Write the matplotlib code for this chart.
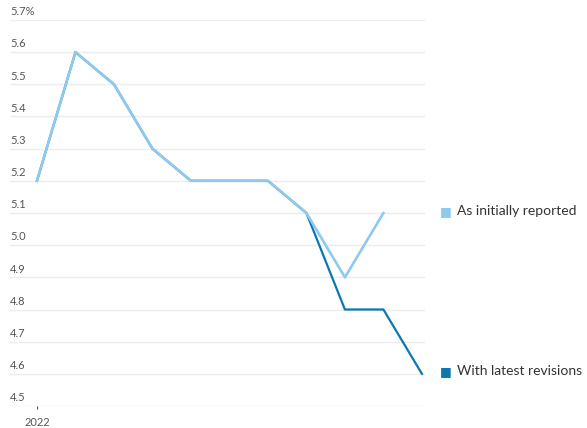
import matplotlib
matplotlib.use("Agg")
import matplotlib.pyplot as plt

x_idx = list(range(11))
initial = [5.2, 5.6, 5.5, 5.3, 5.2, 5.2, 5.2, 5.1, 4.9, 5.1]
revised = [5.2, 5.6, 5.5, 5.3, 5.2, 5.2, 5.2, 5.1, 4.8, 4.8, 4.6]
y_ticks = [4.5, 4.6, 4.7, 4.8, 4.9, 5.0, 5.1, 5.2, 5.3, 5.4, 5.5, 5.6, 5.7]
y_labels = ["4.5", "4.6", "4.7", "4.8", "4.9", "5.0", "5.1", "5.2", "5.3", "5.4", "5.5", "5.6", "5.7%"]
x_label = "2022"
series_names = ["As initially reported", "With latest revisions"]

light = "#8ecaee"
dark = "#0b78b0"

plt.rcParams['font.family'] = ['Lato', 'DejaVu Sans']

fig = plt.figure(figsize=(5.87, 4.28), dpi=100)
ax = fig.add_axes([10/587, 22/428, 415/587, 386/428])
ax.set_xlim(-0.7, 10.08)
ax.set_ylim(4.5, 5.7)

for yt, lab in zip(y_ticks, y_labels):
    ax.axhline(yt, color="#ececec", lw=1.0, zorder=0)
    ax.annotate(lab, xy=(0, yt), xycoords=("axes fraction", "data"),
                xytext=(0, 2), textcoords="offset points",
                ha="left", va="bottom", fontsize=8, color="#555555")

ax.plot(x_idx[:len(revised)], revised, color=dark, lw=1.6, zorder=2)
ax.plot(x_idx[:len(initial)], initial, color=light, lw=1.9, zorder=3)

for s in ax.spines.values():
    s.set_visible(False)
ax.set_yticks([])
ax.set_xticks([0])
ax.set_xticklabels([x_label], fontsize=8, color="#555555")
ax.tick_params(axis="x", length=2, width=0.8, color="#555555", pad=6)

# legend labels at line ends
fig.text(440/587, 1 - 211/428, "\u25a0", color=light, fontsize=9, va="center", ha="left")
fig.text(457/587, 1 - 211/428, series_names[0], color="#333333", fontsize=10, va="center", ha="left")
fig.text(440/587, 1 - 371/428, "\u25a0", color=dark, fontsize=9, va="center", ha="left")
fig.text(457/587, 1 - 371/428, series_names[1], color="#333333", fontsize=10, va="center", ha="left")

fig.savefig("out.png", dpi=100)
